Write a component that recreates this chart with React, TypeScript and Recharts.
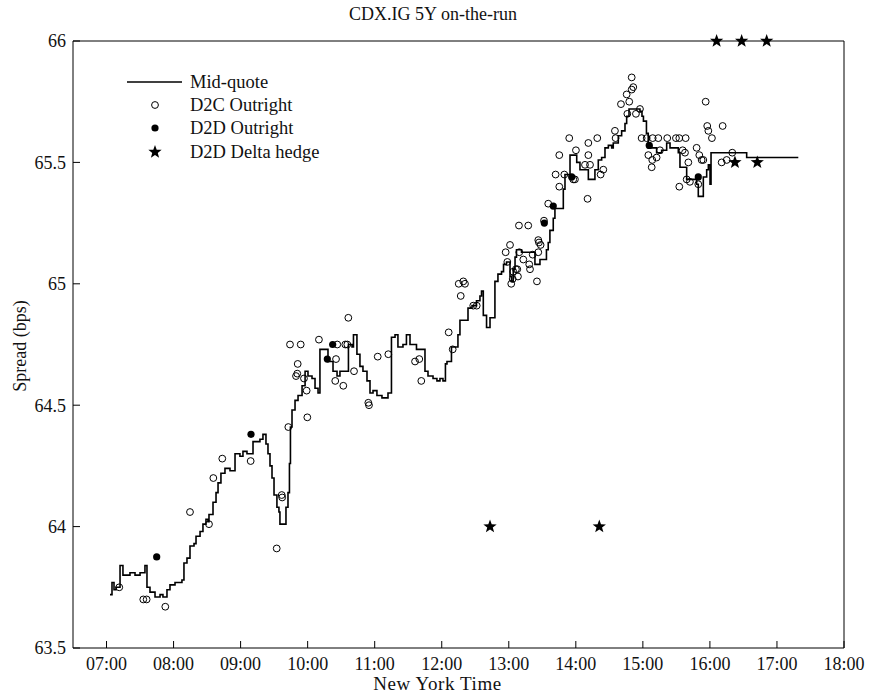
import React from 'react';
import { ComposedChart, Line, Scatter, XAxis, YAxis, Legend } from 'recharts';

// times are minutes after midnight (New York), values are spread in bps
const midQuote: [number, number][] = [
  [423.1, 63.72], [424.9, 63.77], [426.7, 63.74], [428.5, 63.75], [432.1, 63.84], [434.7, 63.8],
  [441.0, 63.81], [445.5, 63.8], [450.0, 63.81], [454.4, 63.84], [456.2, 63.75], [458.9, 63.73],
  [463.4, 63.71], [467.9, 63.72], [470.5, 63.71], [474.1, 63.74], [476.8, 63.76], [481.3, 63.77],
  [487.5, 63.78], [489.3, 63.85], [492.0, 63.87], [494.7, 63.92], [498.3, 63.93], [500.1, 63.96],
  [503.7, 63.98], [506.3, 64.01], [509.0, 64.03], [510.8, 64.02], [511.7, 64.05], [515.3, 64.1],
  [518.0, 64.14], [519.8, 64.18], [522.4, 64.22], [526.0, 64.24], [530.5, 64.23], [535.0, 64.3],
  [539.4, 64.29], [542.1, 64.31], [545.7, 64.3], [551.1, 64.35], [557.3, 64.36], [560.0, 64.38],
  [562.7, 64.34], [564.5, 64.3], [566.3, 64.25], [568.1, 64.2], [569.9, 64.13], [572.5, 64.08],
  [574.3, 64.06], [575.2, 64.01], [580.6, 64.08], [582.4, 64.14], [583.7, 64.26], [584.6, 64.41],
  [586.0, 64.48], [588.7, 64.52], [591.4, 64.54], [595.0, 64.58], [597.7, 64.64], [600.3, 64.62],
  [603.9, 64.61], [606.6, 64.57], [609.3, 64.55], [611.0, 64.73], [618.2, 64.68], [622.7, 64.64],
  [626.3, 64.62], [628.9, 64.64], [636.5, 64.75], [639.7, 64.74], [641.0, 64.79], [644.1, 64.71],
  [646.8, 64.66], [649.5, 64.64], [653.1, 64.6], [655.8, 64.55], [658.5, 64.56], [662.0, 64.54],
  [666.5, 64.53], [671.9, 64.55], [675.0, 64.78], [678.2, 64.79], [680.8, 64.74], [685.3, 64.75],
  [688.4, 64.79], [691.6, 64.75], [697.4, 64.73], [705.0, 64.64], [707.7, 64.62], [712.2, 64.61],
  [715.7, 64.6], [718.4, 64.61], [721.1, 64.6], [723.3, 64.67], [724.7, 64.68], [728.7, 64.74],
  [734.5, 64.79], [736.3, 64.85], [743.5, 64.9], [747.1, 64.91], [751.1, 64.93], [754.2, 64.95],
  [755.6, 64.97], [757.2, 64.87], [760.1, 64.82], [763.2, 64.86], [767.6, 65.01], [770.3, 65.04],
  [773.5, 65.05], [775.3, 65.08], [778.0, 65.09], [781.1, 65.03], [782.4, 65.01], [784.0, 65.06],
  [785.6, 65.11], [786.9, 65.14], [791.4, 65.13], [803.4, 65.08], [807.9, 65.1], [813.7, 65.14],
  [815.3, 65.17], [816.8, 65.22], [819.8, 65.27], [821.3, 65.31], [828.8, 65.39], [830.3, 65.45],
  [834.8, 65.53], [840.8, 65.5], [843.7, 65.47], [851.2, 65.43], [857.1, 65.47], [860.1, 65.51],
  [863.1, 65.52], [866.1, 65.56], [869.1, 65.57], [872.1, 65.56], [873.5, 65.58], [878.0, 65.61],
  [881.0, 65.63], [884.0, 65.66], [885.5, 65.69], [887.6, 65.72], [897.4, 65.71], [899.2, 65.69],
  [900.5, 65.67], [903.2, 65.62], [904.8, 65.57], [907.9, 65.56], [912.3, 65.54], [916.8, 65.55],
  [921.3, 65.58], [924.3, 65.56], [931.7, 65.54], [933.2, 65.48], [939.2, 65.43], [948.1, 65.41],
  [949.6, 65.36], [954.1, 65.44], [957.1, 65.47], [958.6, 65.49], [960.1, 65.41], [961.0, 65.54],
  [992.9, 65.52], [1039.1, 65.52],
];

const d2cOutright: [number, number][] = [
  [431.4, 63.75], [452.9, 63.7], [455.9, 63.7], [472.6, 63.67], [494.7, 64.06], [511.7, 64.01],
  [515.6, 64.2], [523.6, 64.28], [549.0, 64.27], [572.3, 63.91], [576.8, 64.13], [577.2, 64.12],
  [582.7, 64.41], [584.2, 64.75], [589.6, 64.62], [590.7, 64.63], [591.1, 64.67], [593.8, 64.75],
  [596.7, 64.61], [599.1, 64.56], [599.7, 64.45], [610.1, 64.77], [624.7, 64.6], [625.4, 64.69],
  [626.5, 64.75], [631.9, 64.58], [633.7, 64.75], [635.5, 64.75], [636.4, 64.86], [641.5, 64.64],
  [654.3, 64.51], [654.9, 64.5], [662.7, 64.7], [672.2, 64.71], [696.1, 64.68], [699.9, 64.69],
  [701.7, 64.6], [726.2, 64.8], [729.8, 64.73], [735.2, 65.0], [737.0, 64.95], [739.3, 65.01],
  [740.8, 65.0], [748.2, 64.91], [751.3, 64.91], [777.2, 65.13], [778.7, 65.09], [781.1, 65.16],
  [782.2, 65.0], [783.5, 65.02], [784.0, 65.05], [786.4, 65.06], [787.6, 65.06], [788.2, 65.03],
  [789.1, 65.24], [789.4, 65.13], [793.0, 65.1], [797.4, 65.24], [798.3, 65.08], [799.0, 65.06],
  [801.4, 65.12], [805.2, 65.01], [806.4, 65.18], [807.0, 65.17], [808.5, 65.16], [806.4, 65.13],
  [811.5, 65.26], [815.3, 65.33], [821.9, 65.45], [825.2, 65.4], [825.2, 65.53], [829.7, 65.45],
  [834.1, 65.6], [837.7, 65.43], [839.2, 65.43], [840.1, 65.55], [848.2, 65.49], [850.5, 65.35],
  [851.2, 65.58], [851.2, 65.53], [852.7, 65.49], [859.2, 65.6], [862.2, 65.45], [864.6, 65.47],
  [875.0, 65.63], [875.6, 65.6], [880.4, 65.74], [885.5, 65.78], [886.1, 65.7], [887.8, 65.75],
  [890.0, 65.8], [891.4, 65.81], [890.0, 65.85], [893.8, 65.7], [897.4, 65.72], [898.9, 65.6],
  [903.4, 65.6], [904.9, 65.53], [907.9, 65.48], [908.4, 65.51], [908.8, 65.6], [912.3, 65.52],
  [913.8, 65.6], [915.3, 65.55], [921.8, 65.6], [929.6, 65.6], [932.6, 65.6], [932.6, 65.4],
  [935.6, 65.55], [937.7, 65.54], [938.3, 65.6], [939.2, 65.43], [940.7, 65.5], [942.1, 65.42],
  [948.1, 65.56], [949.6, 65.41], [950.5, 65.53], [952.6, 65.51], [954.1, 65.51], [956.2, 65.75],
  [957.6, 65.65], [958.6, 65.63], [961.8, 65.6], [970.5, 65.5], [971.4, 65.65], [975.0, 65.51],
  [980.0, 65.54],
];

const d2dOutright: [number, number][] = [
  [464.9, 63.875], [549.3, 64.38], [617.6, 64.69], [622.4, 64.75], [811.8, 65.25],
  [819.8, 65.32], [836.3, 65.44], [905.7, 65.57], [949.6, 65.44],
];

const d2dDeltaHedge: [number, number][] = [
  [763.2, 64.0], [861.0, 64.0], [966.0, 66.0], [988.4, 66.0], [1010.8, 66.0], [982.4, 65.5], [1002.4, 65.5],
];

const xTicks = [420, 480, 540, 600, 660, 720, 780, 840, 900, 960, 1020, 1080];
const yTicks = [63.5, 64, 64.5, 65, 65.5, 66];

const toRows = (pts: [number, number][]) => pts.map(([t, v]) => ({ t, v }));

const fontFamily = '"Liberation Serif", "Times New Roman", serif';
const fmtTime = (m: number) =>
  `${String(Math.floor(m / 60)).padStart(2, '0')}:${String(Math.round(m % 60)).padStart(2, '0')}`;

const starPath = (cx: number, cy: number, R: number, r: number) => {
  let d = '';
  for (let i = 0; i < 10; i++) {
    const a = (-90 + i * 36) * (Math.PI / 180);
    const rad = i % 2 ? r : R;
    d += `${i ? 'L' : 'M'}${cx + rad * Math.cos(a)},${cy + rad * Math.sin(a)}`;
  }
  return d + 'Z';
};

const OpenDot = (p: any) => <circle cx={p.cx} cy={p.cy} r={3.4} fill="none" stroke="#000" strokeWidth={1} />;
const FilledDot = (p: any) => <circle cx={p.cx} cy={p.cy} r={3.6} fill="#000" />;
const Star = (p: any) => <path d={starPath(p.cx, p.cy, 7, 2.9)} fill="#000" />;

const LegendBox = () => {
  const rows = [
    { label: 'Mid-quote', icon: <line x1={0} y1={11} x2={55} y2={11} stroke="#000" strokeWidth={1.5} /> },
    { label: 'D2C Outright', icon: <circle cx={28} cy={11} r={3.4} fill="none" stroke="#000" /> },
    { label: 'D2D Outright', icon: <circle cx={28} cy={11} r={3.6} fill="#000" /> },
    { label: 'D2D Delta hedge', icon: <path d={starPath(28, 11, 7, 2.9)} fill="#000" /> },
  ];
  return (
    <div style={{ fontFamily, fontSize: 18.5, color: '#111' }}>
      {rows.map((r) => (
        <div key={r.label} style={{ display: 'flex', alignItems: 'center', height: 23.4 }}>
          <svg width={63} height={22}>{r.icon}</svg>
          <span style={{ lineHeight: '22px' }}>{r.label}</span>
        </div>
      ))}
    </div>
  );
};

export default function App() {
  const axisColor = '#000';
  const tickStyle = { fill: '#111', fontSize: 18, fontFamily };
  return (
    <div style={{ position: 'absolute', left: 0, top: 0, width: 870, height: 696, background: '#fff', fontFamily }}>
      <div style={{ position: 'absolute', top: 4, left: 0, width: 866, textAlign: 'center', fontSize: 18, lineHeight: '20px', color: '#111' }}>
        CDX.IG 5Y on-the-run
      </div>
      <div style={{ position: 'absolute', top: 674, left: 0, width: 875, textAlign: 'center', fontSize: 19, lineHeight: '20px', color: '#111', letterSpacing: 0.6 }}>
        New York Time
      </div>
      <div
        style={{
          position: 'absolute', left: 20, top: 346, fontSize: 18, lineHeight: '20px', color: '#111', whiteSpace: 'nowrap',
          transform: 'translate(-50%, -50%) rotate(-90deg)',
        }}
      >
        Spread (bps)
      </div>
      <ComposedChart width={870} height={696} margin={{ top: 40, right: 25, bottom: 0, left: 13 }}>
        <XAxis
          xAxisId="b"
          type="number"
          dataKey="t"
          domain={[390, 1080]}
          ticks={xTicks}
          tickFormatter={fmtTime}
          height={48}
          tick={tickStyle}
          tickSize={-7}
          tickMargin={16}
          stroke={axisColor}
        />
        {/* mirror axes: 1px thick so that they are drawn, giving the closed box with inward ticks */}
        <XAxis
          xAxisId="top"
          orientation="top"
          type="number"
          dataKey="t"
          domain={[390, 1080]}
          ticks={xTicks}
          tick={false}
          height={1}
          tickSize={-7}
          stroke={axisColor}
        />
        <YAxis
          yAxisId="l"
          type="number"
          dataKey="v"
          domain={[63.5, 66]}
          ticks={yTicks}
          width={60}
          tick={tickStyle}
          tickSize={-7}
          tickMargin={14}
          stroke={axisColor}
        />
        <YAxis
          yAxisId="r"
          orientation="right"
          type="number"
          dataKey="v"
          domain={[63.5, 66]}
          ticks={yTicks}
          width={1}
          tick={false}
          tickSize={-7}
          stroke={axisColor}
        />
        <Legend
          layout="horizontal"
          verticalAlign="middle"
          align="center"
          content={<LegendBox />}
          wrapperStyle={{ left: 127, top: 70, width: 220 }}
        />
        <Line
          xAxisId="b"
          yAxisId="l"
          data={toRows(midQuote)}
          dataKey="v"
          type="stepAfter"
          stroke="#000"
          strokeWidth={1.6}
          dot={false}
          isAnimationActive={false}
        />
        <Scatter xAxisId="b" yAxisId="l" data={toRows(d2cOutright)} dataKey="v" shape={OpenDot} isAnimationActive={false} />
        <Scatter xAxisId="b" yAxisId="l" data={toRows(d2dOutright)} dataKey="v" shape={FilledDot} isAnimationActive={false} />
        {/* the top/right mirror axes share the same domain; binding the hedges to them makes both render */}
        <Scatter xAxisId="top" yAxisId="r" data={toRows(d2dDeltaHedge)} dataKey="v" shape={Star} isAnimationActive={false} />
      </ComposedChart>
    </div>
  );
}
